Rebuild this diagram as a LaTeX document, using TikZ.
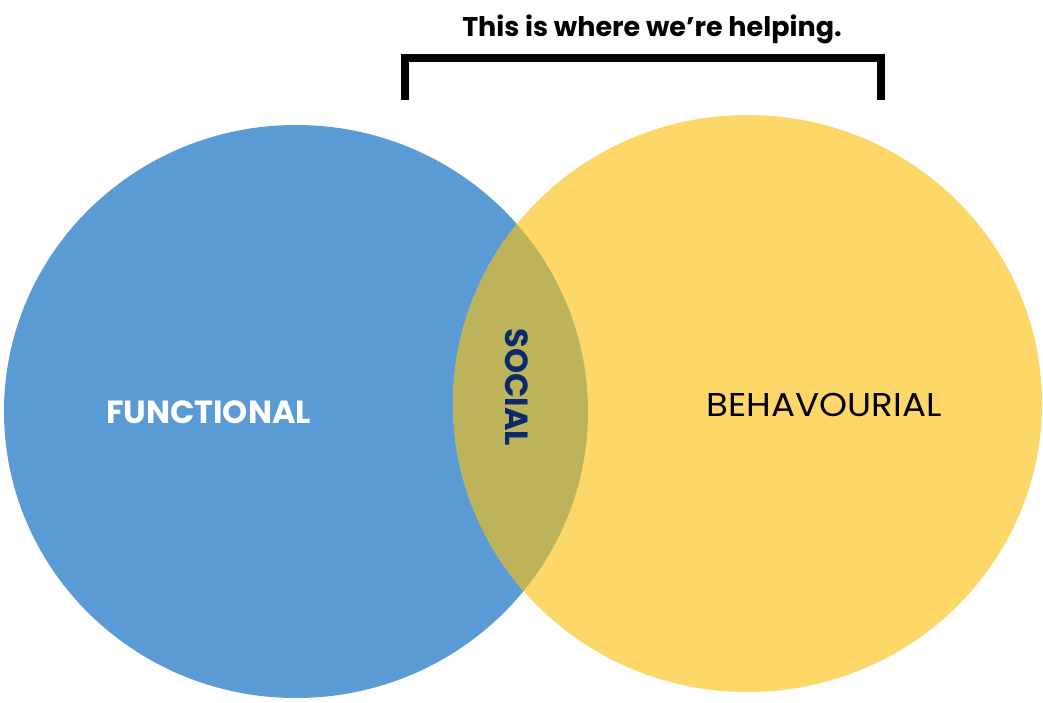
\documentclass[tikz,border=0pt]{standalone}
\usepackage{fontspec}
\setmainfont{Poppins}
\definecolor{vblue}{HTML}{5B9BD5}
\definecolor{vyellow}{HTML}{FDD868}
\definecolor{volive}{HTML}{BDB35A}
\definecolor{vnavy}{HTML}{0B2A6B}
\begin{document}
\begin{tikzpicture}[x=1pt,y=-1pt,
  lbl/.style={inner sep=0pt,anchor=center}]
\useasboundingbox (0,0) rectangle (1043,703);
\fill[white] (0,0) rectangle (1043,703);
\coordinate (cb) at (296,411.5);
\coordinate (cy) at (747.5,403.5);
\fill[vblue] (cb) ellipse [x radius=292pt, y radius=286.5pt];
\fill[vyellow] (cy) ellipse [x radius=294.5pt, y radius=288.5pt];
\begin{scope}
\clip (cb) ellipse [x radius=292pt, y radius=286.5pt];
\fill[volive] (cy) ellipse [x radius=294.5pt, y radius=288.5pt];
\end{scope}
\coordinate (bl) at (405,100);
\coordinate (tl) at (405,58);
\coordinate (tr) at (881,58);
\coordinate (br) at (881,100);
\draw[line width=8.5pt,miter limit=10] (bl) -- (tl) -- (tr) -- (br);
\node[lbl,font=\fontsize{27}{30}\selectfont\bfseries] (title) at (652,29) {This is where we’re helping.};
\node[lbl,text=white,font=\fontsize{32}{34}\selectfont\bfseries] (func) at (208.5,412) {FUNCTIONAL};
\node[lbl,xscale=1.08,font=\fontsize{33}{36}\selectfont] (behav) at (824,404.5) {BEHAVOURIAL};
\node[lbl,text=vnavy,rotate=-90,font=\fontsize{32}{34}\selectfont\bfseries] (social) at (517,387.5) {SOCIAL};
\end{tikzpicture}
\end{document}
